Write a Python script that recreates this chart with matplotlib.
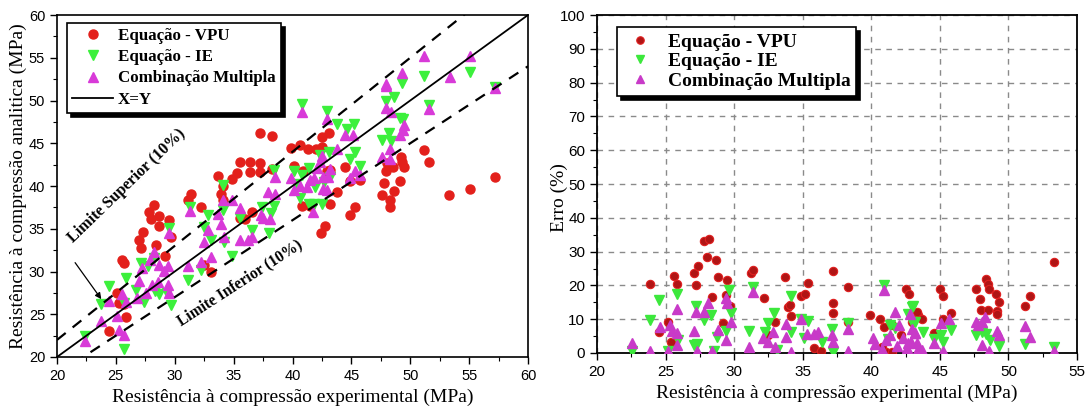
import matplotlib
matplotlib.use("Agg")
import matplotlib.pyplot as plt
from matplotlib.ticker import MultipleLocator

# ---------------- data: left panel (experimental vs analytic, MPa) ----------------
vpu_exp = [24.4, 25.1, 25.3, 25.7, 25.5, 25.7, 25.9, 27.0, 27.1, 27.3, 27.8, 28.2, 28.0, 28.7, 28.7, 29.5, 29.7,
           28.4, 29.2, 31.1, 31.4, 32.2, 32.5, 33.1, 33.7, 34.1, 33.9, 34.1, 34.9, 35.3, 35.5, 35.5, 36.0, 36.4,
           36.4, 36.6, 37.2, 37.2, 37.2, 38.3, 38.3, 39.9, 40.6, 41.3, 42.0, 42.5, 42.5, 43.1, 40.1, 40.9, 42.9,
           43.2, 44.5, 45.7, 44.9, 40.8, 41.5, 43.2, 43.8, 42.4, 42.8, 45.3, 44.9, 47.6, 47.8, 47.9, 48.5, 49.2,
           49.5, 49.1, 48.6, 48.3, 48.3, 48.0, 49.3, 51.2, 51.6, 53.3, 55.1, 57.2]
vpu_ana = [23.0, 27.5, 26.3, 26.2, 31.4, 31.0, 24.7, 33.7, 32.7, 34.6, 37.0, 37.8, 36.1, 36.5, 35.3, 36.0, 34.0,
           33.1, 31.8, 38.4, 39.1, 37.5, 30.8, 30.0, 41.2, 40.0, 39.1, 38.4, 40.8, 41.5, 42.8, 36.2, 36.1, 42.8,
           41.6, 37.0, 46.2, 42.7, 41.6, 45.8, 42.0, 44.4, 44.8, 44.3, 44.3, 44.6, 45.7, 46.2, 42.3, 41.8, 41.8,
           41.9, 42.2, 40.7, 40.6, 37.7, 37.7, 37.9, 39.3, 34.5, 35.3, 37.6, 36.6, 39.0, 40.3, 41.8, 42.2, 43.4,
           42.2, 40.6, 39.4, 38.4, 37.6, 42.7, 42.8, 44.2, 42.8, 38.95, 39.7, 41.1]

ie_exp = [22.4, 25.7, 23.7, 24.4, 25.9, 25.7, 26.7, 27.4, 27.7, 27.1, 28.3, 28.7, 29.3, 29.7, 29.5, 28.2, 31.1,
          31.3, 32.2, 32.8, 33.1, 32.5, 34.1, 34.1, 34.2, 34.9, 35.5, 36.6, 37.4, 38.2, 38.0, 38.4, 38.4, 40.8,
          42.9, 43.8, 44.6, 45.2, 45.3, 44.9, 45.7, 43.1, 42.3, 40.1, 40.8, 41.4, 41.9, 41.4, 41.8, 42.5, 40.6,
          47.6, 48.2, 48.4, 47.9, 48.6, 49.1, 49.4, 49.3, 51.6, 51.2, 55.1, 57.2, 42.7, 43.2, 40.3]
ie_ana = [22.4, 20.9, 26.2, 28.3, 29.2, 26.3, 27.8, 26.4, 30.6, 31.0, 27.7, 27.4, 27.5, 26.1, 35.1, 31.6, 29.0,
          37.5, 30.2, 36.6, 33.7, 35.2, 40.1, 37.2, 33.5, 31.8, 36.2, 34.9, 37.5, 36.9, 34.5, 41.9, 37.7, 49.6,
          48.8, 47.3, 46.7, 47.3, 44.0, 43.2, 42.3, 44.0, 43.6, 41.7, 41.3, 42.1, 39.9, 37.9, 37.9, 37.9, 38.6,
          45.4, 46.2, 45.3, 49.9, 50.4, 47.9, 47.8, 52.1, 49.5, 52.9, 53.3, 51.6, 40.5, 41.0, 40.2]

mc_exp = [22.4, 23.7, 24.4, 25.1, 25.3, 25.7, 25.5, 25.9, 26.8, 27.0, 27.2, 27.6, 27.9, 28.2, 28.1, 28.6, 28.7,
          29.1, 29.4, 29.4, 29.5, 29.5, 31.1, 31.3, 32.2, 32.5, 32.8, 33.1, 34.2, 34.1, 33.7, 33.9, 34.9, 35.5,
          35.5, 36.2, 36.6, 37.3, 37.5, 37.9, 38.1, 38.5, 38.5, 40.8, 42.9, 44.5, 45.1, 43.8, 42.5, 42.3, 42.1,
          41.8, 39.9, 40.1, 40.6, 41.2, 41.5, 42.6, 43.0, 42.6, 42.9, 41.7, 43.2, 45.3, 45.7, 44.9, 47.6, 48.3,
          48.3, 49.1, 49.4, 49.5, 47.9, 48.4, 51.6, 47.9, 49.3, 51.2, 53.4, 55.1, 57.2, 47.9]
mc_ana = [21.9, 24.2, 26.6, 24.8, 23.2, 22.6, 27.4, 26.4, 26.9, 28.9, 30.4, 27.5, 31.4, 32.3, 28.4, 28.8, 30.8,
          30.1, 30.6, 28.4, 27.5, 34.5, 30.6, 37.1, 31.1, 33.4, 34.9, 31.7, 34.0, 38.4, 36.7, 35.6, 38.4, 37.4,
          33.7, 33.7, 34.0, 36.6, 36.2, 39.3, 36.1, 41.1, 39.1, 48.6, 47.8, 46.0, 46.0, 44.3, 43.5, 42.8, 42.1,
          40.9, 40.9, 39.5, 40.0, 39.9, 40.7, 41.1, 41.0, 39.7, 39.5, 37.0, 41.95, 41.8, 41.3, 40.9, 43.4, 44.3,
          43.1, 46.0, 46.6, 47.1, 49.1, 48.7, 49.0, 51.9, 53.2, 55.2, 52.7, 55.2, 51.5, 51.7]

# ---------------- data: right panel (experimental vs error %) ----------------
vpu_x_r = [23.84, 24.5, 25.2, 25.4, 25.6, 25.8, 27.05, 27.2, 27.4, 27.8, 28.2, 28.0, 28.7, 28.4, 28.8, 29.2, 29.5,
           29.4, 29.7, 31.2, 31.4, 32.2, 33.0, 32.5, 33.7, 33.95, 34.07, 34.15, 34.9, 35.2, 35.4, 35.85, 36.3,
           37.2, 37.2, 37.2, 38.3, 38.3, 39.9, 40.6, 40.9, 41.5, 42.5, 42.75, 42.95, 43.4, 41.1, 41.5, 42.2, 40.8,
           43.3, 43.7, 44.6, 45.0, 45.25, 45.8, 45.2, 47.6, 47.9, 47.97, 48.4, 48.5, 48.6, 48.5, 49.1, 49.3, 49.2,
           49.2, 51.2, 51.6, 53.3]
vpu_err = [20.4, 6.1, 9.1, 3.2, 22.8, 20.3, 23.6, 20.1, 25.8, 33.1, 33.7, 28.5, 27.5, 16.7, 22.4, 8.8, 21.6,
           17.2, 14.0, 23.8, 24.5, 16.4, 9.1, 5.4, 22.4, 13.7, 14.2, 11.0, 16.9, 17.6, 20.8, 1.4, 0.6,
           24.4, 14.7, 11.7, 19.5, 9.1, 11.2, 10.0, 7.8, 8.3, 18.9, 17.6, 9.3, 11.2, 0.4, 0.4, 5.4, 1.9,
           12.2, 10.0, 5.8, 18.9, 16.8, 11.7, 10.0, 18.9, 16.0, 12.7, 21.9, 20.5, 18.9, 12.7, 17.4, 15.0, 12.4,
           11.4, 14.0, 16.8, 26.8]

ie_x_r = [22.55, 23.84, 24.5, 25.15, 25.8, 25.9, 27.05, 27.2, 27.8, 28.3, 27.3, 28.5, 28.75, 29.4, 29.6, 29.8,
          31.1, 31.4, 32.5, 32.9, 32.25, 33.1, 34.15, 34.15, 34.9, 35.1, 35.36, 36.4, 37.1, 37.2, 38.3, 40.9,
          41.4, 41.7, 42.95, 42.7, 42.95, 41.2, 43.06, 43.2, 43.8, 44.6, 45.1, 45.25, 45.8, 47.6, 48.05, 48.4,
          48.65, 49.3, 51.2, 53.3]
ie_err = [0.5, 9.8, 15.7, 0.6, 17.6, 3.8, 2.4, 14.0, 9.8, 11.2, 2.6, 0.6, 4.8, 6.4, 18.6, 11.7,
          6.4, 19.6, 8.8, 11.7, 6.1, 0.9, 16.8, 6.1, 10.0, 4.5, 9.5, 3.4, 7.1, 0.4, 8.8, 20.1,
          8.3, 7.3, 13.7, 11.5, 9.1, 4.2, 14.0, 9.3, 6.1, 4.2, 5.2, 3.2, 6.8, 5.2, 6.1, 5.5,
          3.8, 2.1, 2.8, 1.8]

mc_x_r = [22.55, 23.84, 24.6, 25.35, 25.5, 25.8, 25.8, 25.2, 25.8, 27.05, 27.2, 27.8, 27.3, 28.1, 28.4, 28.8,
          29.4, 29.4, 29.5, 29.8, 31.1, 31.4, 32.1, 32.5, 33.0, 32.8, 33.8, 33.8, 34.15, 34.9, 35.3, 35.8,
          36.1, 37.1, 37.2, 38.3, 38.3, 40.9, 40.15, 40.27, 40.8, 41.7, 41.4, 42.0, 42.3, 42.7, 42.95, 43.2,
          43.4, 42.6, 41.9, 41.1, 42.8, 43.2, 42.9, 43.3, 43.7, 44.6, 45.1, 45.25, 45.7, 47.6, 47.8, 48.05,
          48.3, 48.05, 48.6, 49.2, 49.3, 51.2, 51.6, 53.3]
mc_err = [2.9, 0.6, 7.7, 8.3, 6.4, 5.9, 13.0, 0.6, 2.4, 6.4, 12.0, 12.0, 0.6, 14.7, 0.6, 6.7,
          3.8, 16.4, 14.7, 9.1, 1.9, 18.1, 4.4, 3.2, 1.9, 6.1, 8.5, 4.8, 0.4, 10.2, 5.5, 5.7,
          6.1, 5.3, 3.4, 7.1, 0.6, 18.7, 4.4, 2.6, 1.2, 12.0, 5.3, 8.3, 4.4, 2.9, 7.1, 5.9,
          1.2, 1.4, 2.2, 3.9, 11.4, 5.9, 3.2, 2.9, 0.9, 2.9, 8.8, 0.6, 10.2, 9.1, 8.3, 9.1,
          10.7, 2.4, 0.6, 6.4, 5.2, 8.1, 4.8, 0.6]

labels = ["Equação - VPU", "Equação - IE", "Combinação Multipla"]
ref_line = [20, 60]
tol = 0.10

SERIF = "Liberation Serif"
SANS = "Liberation Sans"

RED_L, GREEN_L, MAG_L = "#e3201b", "#3cf03c", "#d83ad8"
RED_R, GREEN_R, MAG_R = "#b01515", "#3ce83c", "#c83ac8"

fig = plt.figure(figsize=(10.88, 4.12), dpi=100)
axL = fig.add_axes([57/1088, 55/412, 471/1088, 342/412])
axR = fig.add_axes([597/1088, 59/412, 480/1088, 338/412])

# ---------------- left panel ----------------
axL.plot(vpu_exp, vpu_ana, linestyle="none", marker="o", ms=6.5, mfc=RED_L, mec=RED_L, label=labels[0], zorder=3)
axL.plot(ie_exp, ie_ana, linestyle="none", marker="v", ms=7, mfc=GREEN_L, mec=GREEN_L, label=labels[1], zorder=3)
axL.plot(mc_exp, mc_ana, linestyle="none", marker="^", ms=7, mfc=MAG_L, mec=MAG_L, label=labels[2], zorder=3)
axL.plot(ref_line, ref_line, color="k", lw=1.3, label="X=Y", zorder=4)
axL.plot(ref_line, [v * (1 + tol) for v in ref_line], color="k", lw=1.6, ls=(0, (5, 4)), zorder=4)
axL.plot(ref_line, [v * (1 - tol) for v in ref_line], color="k", lw=1.6, ls=(0, (5, 4)), zorder=4)

axL.set_xlim(20, 60)
axL.set_ylim(20, 60)
axL.xaxis.set_major_locator(MultipleLocator(5))
axL.yaxis.set_major_locator(MultipleLocator(5))
axL.xaxis.set_minor_locator(MultipleLocator(2.5))
axL.yaxis.set_minor_locator(MultipleLocator(2.5))
axL.tick_params(which="major", direction="out", length=5, width=1, labelsize=10.5)
axL.tick_params(which="minor", direction="out", length=3, width=0.8)
for lab in axL.get_xticklabels() + axL.get_yticklabels():
    lab.set_fontfamily(SANS)
for s in axL.spines.values():
    s.set_linewidth(1.2)

axL.set_xlabel("Resistência à compressão experimental (MPa)", fontfamily=SERIF, fontsize=14, labelpad=4)
axL.set_ylabel("Resistência à compressão analitica (MPa)", fontfamily=SERIF, fontsize=14)
axL.yaxis.set_label_coords(-0.063, 0.5)

axL.text(25.9, 40.0, "Limite Superior (10%)", rotation=44, ha="center", va="center",
         fontfamily=SERIF, fontweight="bold", fontsize=11.5, rotation_mode="anchor")
axL.text(35.5, 28.6, "Limite Inferior (10%)", rotation=33, ha="center", va="center",
         fontfamily=SERIF, fontweight="bold", fontsize=11.2, rotation_mode="anchor")
axL.annotate("", xy=(23.9, 26.5), xytext=(21.4, 31.3),
             arrowprops=dict(arrowstyle="-|>", color="k", lw=0.9, mutation_scale=9))

legL = axL.legend(loc="upper left", bbox_to_anchor=(0.021, 0.977), borderaxespad=0,
                  prop={"family": SERIF, "weight": "bold", "size": 12.2}, frameon=True, fancybox=False,
                  edgecolor="k", framealpha=1, handlelength=2.4, handletextpad=0.3, labelspacing=0.3,
                  borderpad=0.32, shadow={"ox": 3, "oy": -3, "color": "k", "alpha": 1})
legL.get_frame().set_linewidth(1.2)

# ---------------- right panel ----------------
axR.plot(vpu_x_r, vpu_err, linestyle="none", marker="o", ms=6, mfc=RED_R, mec="#e02020", mew=0.8, label=labels[0], zorder=3)
axR.plot(ie_x_r, ie_err, linestyle="none", marker="v", ms=6.5, mfc=GREEN_R, mec=GREEN_R, label=labels[1], zorder=3)
axR.plot(mc_x_r, mc_err, linestyle="none", marker="^", ms=6.5, mfc=MAG_R, mec=MAG_R, label=labels[2], zorder=3)

axR.set_xlim(20, 55)
axR.set_ylim(0, 100)
axR.xaxis.set_major_locator(MultipleLocator(5))
axR.yaxis.set_major_locator(MultipleLocator(10))
axR.xaxis.set_minor_locator(MultipleLocator(2.5))
axR.yaxis.set_minor_locator(MultipleLocator(5))
axR.tick_params(which="major", direction="out", length=5, width=1, labelsize=11)
axR.tick_params(which="minor", direction="out", length=3, width=0.8)
for lab in axR.get_xticklabels() + axR.get_yticklabels():
    lab.set_fontfamily(SANS)
axR.grid(True, which="major", color="#8a8a8a", ls=(0, (4, 4)), lw=1.0)
for s in axR.spines.values():
    s.set_linewidth(1.3)
axR.set_axisbelow(True)

axR.set_xlabel("Resistência à compressão experimental (MPa)", fontfamily=SERIF, fontsize=14, labelpad=4)
axR.set_ylabel("Erro (%)", fontfamily=SERIF, fontsize=14)
axR.yaxis.set_label_coords(-0.061, 0.46)

legR = axR.legend(loc="upper left", bbox_to_anchor=(0.042, 0.964), borderaxespad=0,
                  prop={"family": SERIF, "weight": "bold", "size": 14}, frameon=True, fancybox=False,
                  edgecolor="k", framealpha=1, handlelength=1.8, handletextpad=0.5, labelspacing=0.1,
                  borderpad=0.3, markerscale=0.9, shadow={"ox": 3, "oy": -3, "color": "k", "alpha": 1})
legR.get_frame().set_linewidth(1.2)

fig.savefig("out.png", dpi=100)
